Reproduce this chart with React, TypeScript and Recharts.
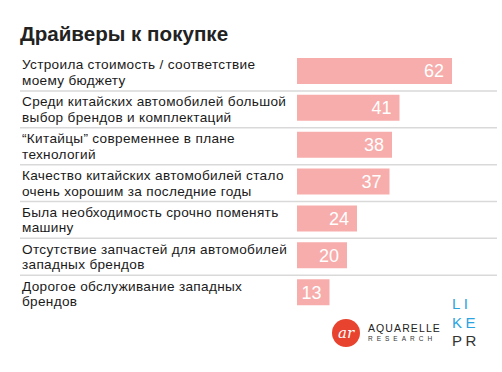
import React from "react"
import { Bar, BarChart, LabelList, XAxis, YAxis } from "recharts"

// Драйверы к покупке, % ответивших
const reasons = [
  "Устроила стоимость / соответствие|моему бюджету",
  "Среди китайских автомобилей большой|выбор брендов и комплектаций",
  "“Китайцы” современнее в плане|технологий",
  "Качество китайских автомобилей стало|очень хорошим за последние годы",
  "Была необходимость срочно поменять|машину",
  "Отсутствие запчастей для автомобилей|западных брендов",
  "Дорогое обслуживание западных|брендов",
]
const shares = [62, 41, 38, 37, 24, 20, 13]

const data = reasons.map((r, i) => ({ reason: r, value: shares[i] }))

const FONT = '"Liberation Sans", Arial, sans-serif'

function ReasonTick(props: any) {
  const { y, payload, index } = props
  const [l1, l2] = String(payload.value).split("|")
  const last = index === reasons.length - 1
  return (
    <g>
      <text x={22} y={y - 2} fontSize={13.6} letterSpacing={0.32} fill="#1a1a1a" fontFamily={FONT}>
        {l1}
      </text>
      <text x={22} y={y + 13.6} fontSize={13.6} letterSpacing={0.32} fill="#1a1a1a" fontFamily={FONT}>
        {l2}
      </text>
      {!last && (
        <line x1={20} x2={497} y1={y + 19.5} y2={y + 19.5} stroke="#d9d9d9" strokeWidth={1.5} />
      )}
    </g>
  )
}

export default function App() {
  return (
    <div style={{ position: "absolute", left: 0, top: 0, width: 502, height: 372, background: "#fff" }}>
      <BarChart
        width={502}
        height={372}
        layout="vertical"
        data={data}
        margin={{ top: 53, right: 5, bottom: 61, left: 20 }}
      >
        <XAxis type="number" domain={[0, 80]} hide />
        <YAxis
          type="category"
          dataKey="reason"
          width={277}
          axisLine={false}
          tickLine={false}
          tick={<ReasonTick />}
          interval={0}
        />
        <Bar dataKey="value" fill="#f7adab" barSize={26} isAnimationActive={false}>
          <LabelList
            dataKey="value"
            position="insideRight"
            offset={8}
            fill="#ffffff"
            fontSize={18}
            fontFamily={FONT}
          />
        </Bar>
      </BarChart>
      <svg
        width={502}
        height={372}
        style={{ position: "absolute", left: 0, top: 0, pointerEvents: "none" }}
      >
        <text x={20} y={40.5} fontSize={20.6} fontWeight="bold" fill="#222" fontFamily={FONT}>
          Драйверы к покупке
        </text>
        <circle cx={346} cy={333} r={14} fill="#e8432f" />
        <text
          x={346}
          y={338}
          textAnchor="middle"
          fontSize={15}
          fontStyle="italic"
          fill="#fff"
          fontFamily='"DejaVu Serif", serif'
        >
          ar
        </text>
        <text x={368} y={331.5} fontSize={10.5} letterSpacing={1.1} fill="#222" fontFamily={FONT}>
          AQUARELLE
        </text>
        <text x={368} y={341} fontSize={6.5} letterSpacing={4} fill="#333" fontFamily={FONT}>
          RESEARCH
        </text>
        <g fontSize={15} fontFamily={FONT} letterSpacing={3.5}>
          <text x={452} y={308.5} fill="#2aa3e0">LI</text>
          <text x={452} y={327.5} fill="#2aa3e0">KE</text>
          <text x={452} y={345.5} fill="#333">PR</text>
        </g>
      </svg>
    </div>
  )
}
